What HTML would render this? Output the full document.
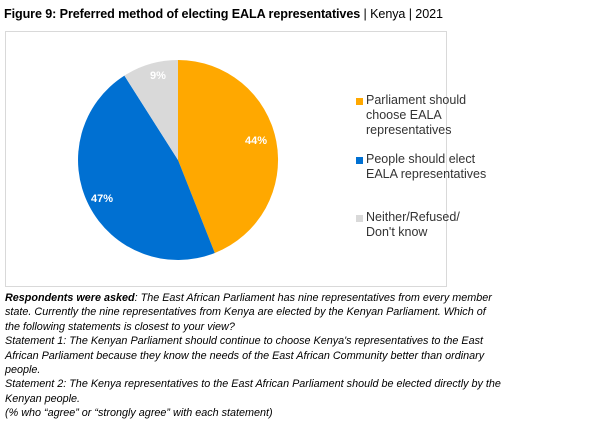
<!DOCTYPE html>
<html><head><style>
body{margin:0;background:#fff;width:602px;height:427px;overflow:hidden;font-family:"Liberation Sans",sans-serif;}
.t{position:absolute;left:4px;top:7px;font-size:12.6px;letter-spacing:-0.1px;color:#000;white-space:nowrap;}
.box{position:absolute;left:5px;top:31px;width:440px;height:254px;border:1px solid #d9d9d9;}
.lg{position:absolute;font-size:12.5px;line-height:15px;color:#333;}
.sq{position:absolute;width:7px;height:7px;}
.q{position:absolute;left:5px;top:291px;font-size:10.8px;line-height:14.4px;font-style:italic;color:#000;white-space:nowrap;}
</style></head><body>
<div class="t"><b>Figure 9: Preferred method of electing EALA representatives</b> | Kenya | 2021</div>
<div class="box"></div>
<svg style="position:absolute;left:0;top:0" width="602" height="427">
<path d="M178 160 L178 60 A100 100 0 0 1 214.8 253 Z" fill="#ffa800"/>
<path d="M178 160 L214.8 253 A100 100 0 0 1 124.4 75.6 Z" fill="#0070d2"/>
<path d="M178 160 L124.4 75.6 A100 100 0 0 1 178 60 Z" fill="#d9d9d9"/>
<g font-family="Liberation Sans" font-weight="bold" font-size="11" fill="#fff" text-anchor="middle">
<text x="256" y="144">44%</text><text x="102" y="202">47%</text><text x="158" y="79">9%</text></g>
</svg>
<div class="sq" style="left:356px;top:98px;background:#ffa800"></div>
<div class="lg" style="left:366px;top:93px">Parliament should<br>choose EALA<br>representatives</div>
<div class="sq" style="left:356px;top:157px;background:#0070d2"></div>
<div class="lg" style="left:366px;top:152px">People should elect<br>EALA representatives</div>
<div class="sq" style="left:356px;top:215px;background:#d9d9d9"></div>
<div class="lg" style="left:366px;top:210px">Neither/Refused/<br>Don't know</div>
<div class="q"><b>Respondents were asked</b>: The East African Parliament has nine representatives from every member<br>state. Currently the nine representatives from Kenya are elected by the Kenyan Parliament. Which of<br>the following statements is closest to your view?<br>Statement 1: The Kenyan Parliament should continue to choose Kenya's representatives to the East<br>African Parliament because they know the needs of the East African Community better than ordinary<br>people.<br>Statement 2: The Kenya representatives to the East African Parliament should be elected directly by the<br>Kenyan people.<br>(% who “agree” or “strongly agree” with each statement)</div>
</body></html>
